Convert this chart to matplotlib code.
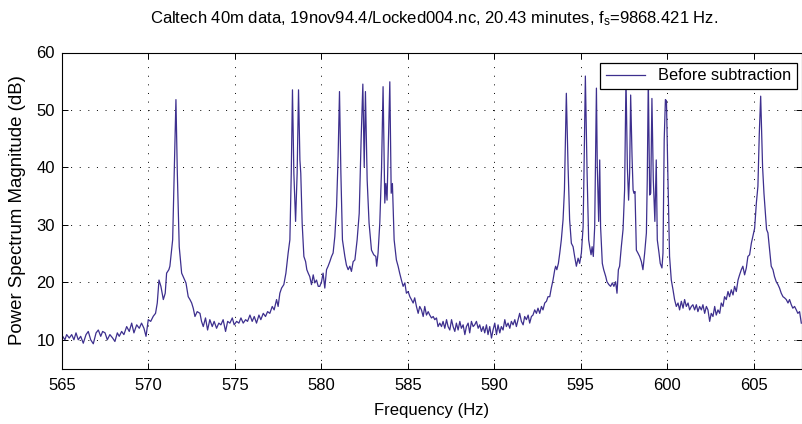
import matplotlib
matplotlib.use("Agg")
import matplotlib.pyplot as plt

plt.rcParams['font.family'] = ['Liberation Sans', 'DejaVu Sans']
plt.rcParams['mathtext.default'] = 'regular'
plt.rcParams['lines.scale_dashes'] = False

title_text = "Caltech 40m data, 19nov94.4/Locked004.nc, 20.43 minutes, f$_{s}$=9868.421 Hz."
x_label = "Frequency (Hz)"
y_label = "Power Spectrum Magnitude (dB)"
legend_label = "Before subtraction"
x_ticks = [565, 570, 575, 580, 585, 590, 595, 600, 605]
y_ticks = [10, 20, 30, 40, 50, 60]

# ---- spectrum ----
freq_a = [565.0, 565.04, 565.17, 565.27, 565.42, 565.56, 565.69, 565.81, 565.94, 566.08,
          566.23, 566.39, 566.52, 566.66, 566.81, 566.97, 567.10, 567.24, 567.35, 567.49,
          567.62, 567.77, 567.93, 568.06, 568.2, 568.31, 568.45, 568.58, 568.74, 568.89,
          569.03, 569.16, 569.32, 569.47, 569.6, 569.74, 569.86, 569.99, 570.13, 570.28,
          570.41, 570.51, 570.61, 570.72, 570.86, 570.97, 571.05, 571.18]
db_a = [9.7, 10.6, 10.0, 10.9, 10.3, 10.9, 10.0, 11.2, 10.0, 10.6,
        9.4, 10.9, 11.45, 10.0, 9.3, 11.2, 11.7, 10.6, 11.45, 11.2,
        10.0, 10.9, 10.3, 9.7, 11.2, 10.6, 11.45, 10.9, 12.3, 11.45,
        12.9, 11.2, 12.6, 12.0, 12.9, 12.0, 10.6, 13.5, 13.2, 14.1,
        14.6, 16.4, 20.4, 19.3, 17.0, 18.1, 21.6, 22.2]

freq_b = [571.24, 571.4, 571.49, 571.59, 571.67, 571.78, 571.92, 572.05, 572.17, 572.3,
          572.4, 572.5, 572.59, 572.69, 572.82, 572.98, 573.07, 573.17, 573.3, 573.42,
          573.55, 573.69, 573.8, 573.94, 574.07, 574.19, 574.32, 574.46, 574.58, 574.71,
          574.85, 574.96, 575.1, 575.23, 575.35, 575.48, 575.62, 575.73, 575.87, 576.0,
          576.12, 576.25, 576.39, 576.5, 576.64, 576.77, 576.89, 577.02, 577.16, 577.27,
          577.41, 577.5, 577.6, 577.7, 577.83, 577.95]
db_b = [22.8, 27.4, 39.0, 51.8, 39.0, 26.2, 21.6, 20.7, 19.9, 17.5,
        17.0, 16.4, 15.5, 14.05, 14.9, 14.6, 13.2, 12.3, 13.8, 11.7,
        13.5, 12.3, 13.2, 12.0, 12.9, 12.6, 13.5, 11.45, 13.2, 12.9,
        13.8, 12.6, 13.2, 12.9, 13.8, 12.9, 13.5, 13.2, 14.3, 13.2,
        14.05, 12.9, 14.3, 13.5, 14.6, 14.05, 14.9, 14.6, 15.8, 15.2,
        17.0, 15.8, 18.1, 19.0, 19.6, 21.6]

freq_c = [578.08, 578.18, 578.26, 578.33, 578.41, 578.51, 578.6, 578.68, 578.76, 578.81,
          578.89, 578.99, 579.09, 579.16, 579.24, 579.33, 579.43, 579.53, 579.62, 579.72,
          579.82, 579.91, 580.01, 580.1, 580.2, 580.3, 580.39, 580.49, 580.59, 580.68,
          580.78, 580.88, 580.97, 581.05, 581.13, 581.22, 581.36, 581.45, 581.55, 581.65,
          581.74, 581.84, 581.94, 582.07, 582.19, 582.3, 582.4, 582.48, 582.55, 582.65,
          582.76, 582.9, 583.03, 583.15, 583.2]
db_c = [25.1, 27.4, 39.0, 53.5, 39.0, 30.6, 39.0, 53.5, 41.3, 39.0,
        30.3, 24.5, 23.6, 22.2, 21.6, 21.0, 19.6, 21.3, 19.9, 20.4,
        19.3, 19.3, 20.1, 21.6, 19.0, 22.2, 22.8, 23.6, 24.5, 25.1,
        28.0, 33.2, 41.9, 53.2, 39.0, 27.4, 24.5, 23.0, 22.2, 22.8,
        21.9, 23.6, 23.9, 27.4, 32.0, 44.8, 54.5, 40.1, 53.2, 37.8,
        30.3, 25.6, 24.8, 24.5, 22.8]

freq_d = [583.28, 583.38, 583.48, 583.57, 583.67, 583.73, 583.8, 583.96, 584.04, 584.11,
          584.21, 584.34, 584.44, 584.53, 584.63, 584.73, 584.83, 584.92, 585.02, 585.12,
          585.21, 585.31, 585.4, 585.5, 585.6, 585.69, 585.79, 585.89, 585.98, 586.08,
          586.18, 586.27, 586.37, 586.47, 586.56, 586.66, 586.75, 586.85, 586.95, 587.04,
          587.14, 587.24, 587.33, 587.43, 587.53, 587.62, 587.72, 587.81, 587.91, 588.01,
          588.1, 588.2, 588.3, 588.39, 588.49, 588.58, 588.68, 588.78, 588.87, 588.97,
          589.07, 589.16, 589.26, 589.36, 589.45, 589.55, 589.64, 589.74, 589.84, 589.93,
          590.03, 590.13, 590.22, 590.32, 590.41, 590.51, 590.61, 590.7, 590.8, 590.9,
          590.99, 591.09, 591.19, 591.28, 591.38, 591.47, 591.57, 591.67, 591.76, 591.86,
          591.96, 592.05, 592.15, 592.24, 592.34, 592.44, 592.53, 592.63, 592.73, 592.82,
          592.92, 593.02, 593.11]
db_d = [25.1, 30.3, 39.6, 54.05, 33.8, 37.2, 34.3, 54.9, 35.5, 37.2,
        27.4, 23.9, 22.8, 21.6, 20.4, 19.3, 19.9, 18.1, 18.4, 17.5,
        17.0, 16.4, 17.3, 15.8, 14.6, 15.8, 15.2, 14.05, 15.8, 14.3,
        14.9, 14.3, 13.8, 14.05, 13.5, 13.8, 12.3, 12.9, 12.3, 13.2,
        12.0, 13.5, 12.3, 11.7, 13.5, 12.3, 11.45, 12.9, 11.7, 13.2,
        12.0, 12.6, 10.9, 12.3, 12.9, 11.2, 13.2, 12.3, 12.6, 13.2,
        12.0, 12.6, 11.45, 12.3, 11.2, 12.6, 10.9, 12.3, 10.3, 11.7,
        12.9, 10.9, 12.6, 11.2, 12.3, 11.7, 13.5, 12.3, 12.9, 12.0,
        13.2, 12.6, 13.5, 12.3, 13.5, 14.6, 13.2, 12.6, 14.05, 13.5,
        14.3, 12.9, 14.05, 14.3, 15.2, 14.6, 15.5, 14.6, 15.8, 15.2,
        16.4, 16.7, 17.5]

freq_e = [593.21, 593.3, 593.4, 593.5, 593.55, 593.62, 593.71, 593.79, 593.88, 593.98,
          594.06, 594.17, 594.27, 594.36, 594.46, 594.56, 594.65, 594.75, 594.85, 594.94,
          595.04, 595.14, 595.19, 595.27, 595.37, 595.46, 595.52, 595.6, 595.66, 595.73,
          595.81, 595.91, 595.96, 596.04, 596.1, 596.15, 596.25, 596.33, 596.45, 596.52,
          596.63, 596.73, 596.83, 596.92, 597.02, 597.1, 597.18, 597.25, 597.35, 597.45,
          597.54, 597.62, 597.7, 597.77, 597.83, 597.89, 597.97, 598.03, 598.08, 598.14,
          598.22, 598.31]
db_e = [17.5, 19.0, 20.4, 22.2, 22.8, 22.2, 23.3, 25.1, 27.4, 30.9,
        36.1, 52.9, 40.1, 30.9, 26.8, 26.2, 24.5, 22.8, 24.2, 23.3,
        25.1, 29.7, 39.0, 55.9, 39.0, 27.4, 26.2, 24.8, 26.2, 24.5,
        29.7, 53.8, 40.1, 30.6, 41.3, 29.7, 23.3, 22.2, 21.0, 20.1,
        19.6, 19.3, 19.9, 19.3, 20.1, 18.1, 22.2, 22.8, 26.2, 29.2,
        36.1, 55.5, 40.0, 34.3, 39.0, 52.6, 41.9, 36.1, 35.5, 35.8,
        25.6, 25.1]

freq_f = [598.41, 598.51, 598.6, 598.7, 598.8, 598.85, 598.91, 598.99, 599.05, 599.12,
          599.2, 599.29, 599.37, 599.43, 599.53, 599.6, 599.7, 599.76, 599.83, 599.9,
          599.96, 600.04]
db_f = [24.5, 23.6, 22.2, 25.1, 28.6, 37.8, 55.5, 35.2, 35.5, 52.0,
        37.8, 30.6, 41.3, 27.4, 25.1, 23.3, 22.5, 25.1, 44.8, 51.8,
        51.6, 39.0]

freq_g = [600.14, 600.24, 600.34, 600.43, 600.53, 600.63, 600.72, 600.82, 600.92, 601.01,
          601.11, 601.21, 601.3, 601.4, 601.49, 601.59, 601.69, 601.78, 601.88, 601.98,
          602.07, 602.17, 602.27, 602.36, 602.46, 602.55, 602.65, 602.75, 602.84, 602.94,
          603.04, 603.13, 603.23, 603.32, 603.42, 603.52, 603.61, 603.71, 603.81, 603.9,
          604.0, 604.1, 604.19, 604.29, 604.38, 604.48, 604.58, 604.67, 604.77, 604.87,
          604.96, 605.06, 605.16, 605.25, 605.33, 605.41, 605.46, 605.52, 605.6, 605.68,
          605.75, 605.83, 605.93, 606.02, 606.12, 606.21, 606.31, 606.41, 606.5, 606.6,
          606.7, 606.79, 606.89, 606.99, 607.08, 607.18, 607.27, 607.37, 607.47, 607.56,
          607.66, 607.76]
db_g = [24.5, 20.4, 18.7, 17.0, 15.8, 16.4, 15.2, 16.7, 15.5, 17.0,
        15.8, 16.4, 15.2, 15.8, 16.1, 15.2, 16.1, 14.9, 15.8, 15.2,
        16.1, 14.6, 15.8, 15.2, 13.2, 14.6, 14.05, 15.8, 14.3, 15.2,
        14.6, 16.4, 15.8, 17.5, 17.0, 18.4, 17.5, 18.7, 17.8, 19.3,
        18.4, 20.4, 21.3, 22.2, 22.8, 21.3, 22.5, 24.5, 24.8, 26.8,
        28.0, 29.4, 33.8, 36.7, 45.9, 52.4, 47.1, 40.1, 35.5, 32.0,
        29.2, 28.6, 25.6, 22.8, 22.2, 21.0, 20.1, 19.6, 19.0, 18.1,
        17.5, 17.3, 17.0, 16.4, 17.0, 16.1, 15.5, 15.8, 15.2, 14.6,
        14.9, 12.9]

freq_hz = freq_a + freq_b + freq_c + freq_d + freq_e + freq_f + freq_g
power_db = db_a + db_b + db_c + db_d + db_e + db_f + db_g

W, H = 803, 424
fig = plt.figure(figsize=(W / 100, H / 100), dpi=100)
ax = fig.add_axes([62 / W, 1 - 368.5 / H, 740 / W, 316 / H])

ax.plot(freq_hz, power_db, color='#3d2f8e', linewidth=0.9, label=legend_label)

ax.set_xlim(565, 607.8)
ax.set_ylim(5, 60)
ax.set_xticks(x_ticks)
ax.set_yticks(y_ticks)
ax.set_xticklabels([str(t) for t in x_ticks])
ax.set_yticklabels([str(t) for t in y_ticks])

ax.grid(True, color='black', linestyle=(0, (0.7, 5.5)), linewidth=0.7)
ax.tick_params(direction='in', length=4, width=0.7, top=True, right=True,
               labelsize=12, colors='black')
ax.tick_params(axis='x', pad=7)
ax.tick_params(axis='y', pad=5)
for s in ax.spines.values():
    s.set_linewidth(0.8)
    s.set_color('black')

ax.set_xlabel(x_label, fontsize=12, va='center')
ax.xaxis.set_label_coords(0.5, -(410 - 368.5) / 316)
ax.set_ylabel(y_label, fontsize=13.4, va='center')
ax.yaxis.set_label_coords(-(62 - 18) / 740, 0.5)

fig.text(434 / W, 1 - 19 / H, title_text, ha='center', va='center', fontsize=12)

leg = ax.legend(loc='upper right', bbox_to_anchor=((797 - 62) / 740, 1 - (62.7 - 52.5) / 316),
                borderaxespad=0, fancybox=False, framealpha=1, edgecolor='black',
                fontsize=11.8, handlelength=2.4, handletextpad=0.8, borderpad=0.35)
leg.get_frame().set_linewidth(0.9)
leg.set_zorder(10)

fig.savefig('out.png', dpi=100)
